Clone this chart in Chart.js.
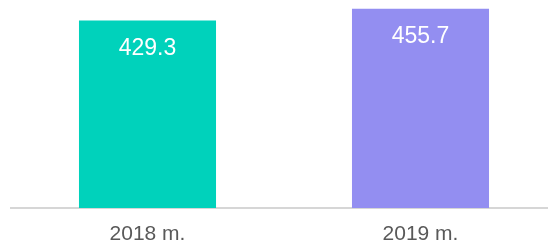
<!DOCTYPE html>
<html>
<head>
<meta charset="utf-8">
<script src="https://cdn.jsdelivr.net/npm/chart.js@4/dist/chart.umd.min.js"></script>
<style>
    html, body { margin: 0; padding: 0; background: #fff; overflow: hidden; }
    #wrap { width: 560px; height: 244px; }
</style>
</head>
<body>
<div id="wrap"><canvas id="chart"></canvas></div>
<script>
const years = ["2018 m.", "2019 m."];
const values = [429.3, 455.7];
const barColors = ["#00D2BB", "#938EF1"];

// value labels inside the bars
const valueLabels = {
    id: "valueLabels",
    afterDatasetsDraw(chart) {
        const ctx = chart.ctx;
        const meta = chart.getDatasetMeta(0);
        ctx.save();
        ctx.fillStyle = "#ffffff";
        ctx.font = "23px 'Liberation Sans', Arial, sans-serif";
        ctx.textAlign = "center";
        ctx.textBaseline = "middle";
        meta.data.forEach((bar, i) => {
            ctx.fillText(values[i].toFixed(1), bar.x, bar.y + 28);
        });
        ctx.restore();
    }
};

new Chart(document.getElementById("chart"), {
    type: "bar",
    data: {
        labels: years,
        datasets: [{
            data: values,
            backgroundColor: barColors,
            barPercentage: 0.502,
            categoryPercentage: 1
        }]
    },
    options: {
        responsive: true,
        maintainAspectRatio: false,
        animation: false,
        layout: { padding: { left: 11, right: 3, top: 0, bottom: 0 } },
        plugins: {
            legend: { display: false },
            tooltip: { enabled: false }
        },
        scales: {
            x: {
                grid: { display: false, drawTicks: false },
                border: { display: true, color: "#d6d6d6", width: 2 },
                ticks: {
                    color: "#595959",
                    padding: 16,
                    font: { family: "'Liberation Sans', Arial, sans-serif", size: 21, lineHeight: 1 }
                },
                afterFit(scale) {
                    scale.height = 36;
                }
            },
            y: {
                display: false,
                min: 0,
                max: 476
            }
        }
    },
    plugins: [valueLabels]
});
</script>
</body>
</html>
